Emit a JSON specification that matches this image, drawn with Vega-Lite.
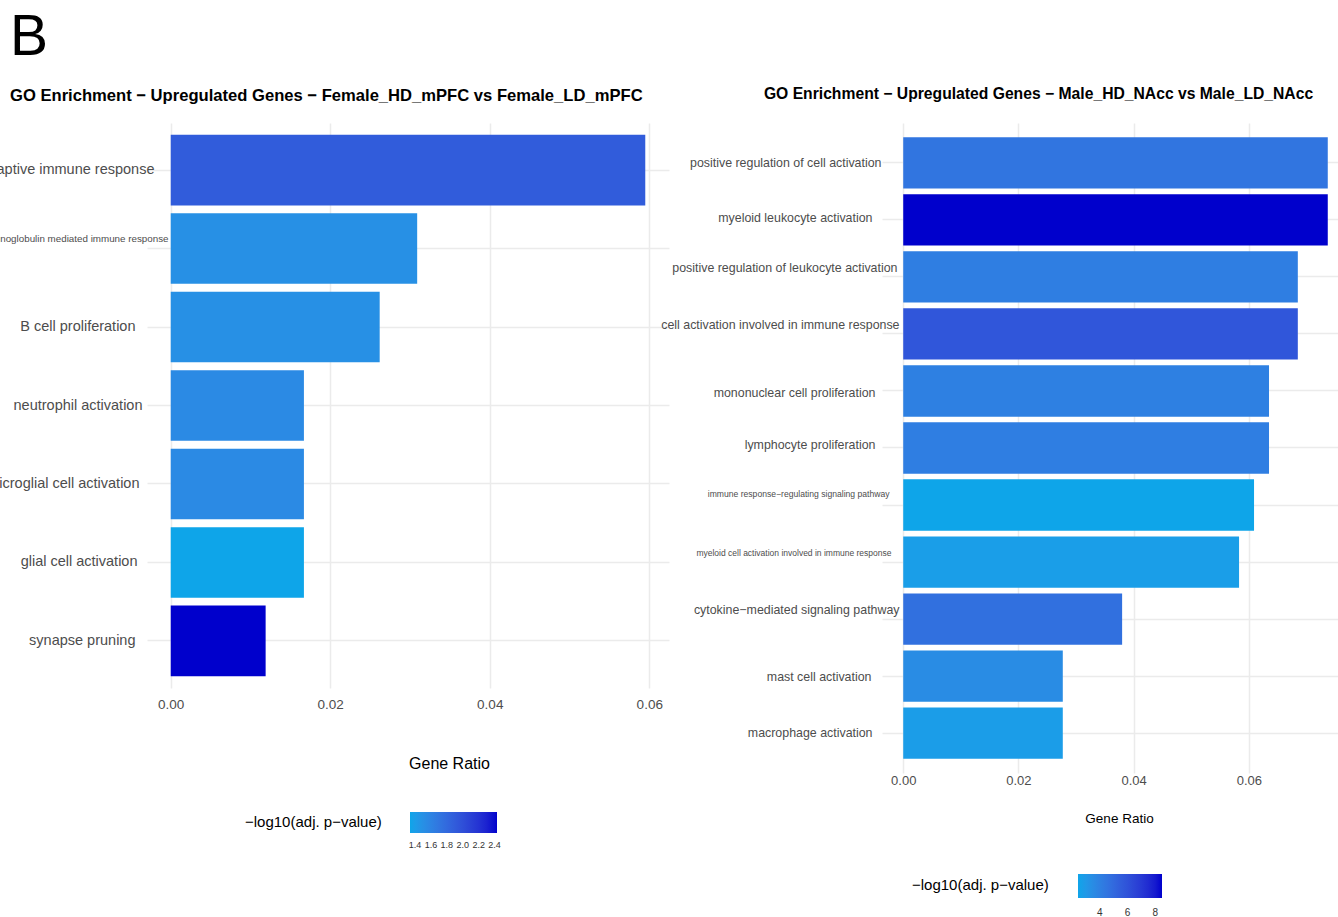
{
  "$schema": "https://vega.github.io/schema/vega-lite/v6.json",
  "autosize": {"type": "none"},
  "padding": {"left": 147, "top": 123, "right": 1191, "bottom": 794},
  "background": "white",
  "datasets": {
    "female": [
      {"term": "adaptive immune response", "ratio": 0.0595, "logp": 1.9},
      {"term": "immunoglobulin mediated immune response", "ratio": 0.0309, "logp": 1.5},
      {"term": "B cell proliferation", "ratio": 0.0262, "logp": 1.5},
      {"term": "neutrophil activation", "ratio": 0.0167, "logp": 1.55},
      {"term": "microglial cell activation", "ratio": 0.0167, "logp": 1.55},
      {"term": "glial cell activation", "ratio": 0.0167, "logp": 1.337},
      {"term": "synapse pruning", "ratio": 0.0119, "logp": 2.43}
    ],
    "male": [
      {"term": "positive regulation of cell activation", "ratio": 0.0737, "logp": 4.5},
      {"term": "myeloid leukocyte activation", "ratio": 0.0737, "logp": 8.49},
      {"term": "positive regulation of leukocyte activation", "ratio": 0.0685, "logp": 4.1},
      {"term": "cell activation involved in immune response", "ratio": 0.0685, "logp": 5.8},
      {"term": "mononuclear cell proliferation", "ratio": 0.0635, "logp": 4.0},
      {"term": "lymphocyte proliferation", "ratio": 0.0635, "logp": 4.1},
      {"term": "immune response−regulating signaling pathway", "ratio": 0.0609, "logp": 2.42},
      {"term": "myeloid cell activation involved in immune response", "ratio": 0.0583, "logp": 2.7},
      {"term": "cytokine−mediated signaling pathway", "ratio": 0.038, "logp": 4.7},
      {"term": "mast cell activation", "ratio": 0.0277, "logp": 3.5},
      {"term": "macrophage activation", "ratio": 0.0277, "logp": 2.75}
    ]
  },
  "bounds": "flush",
  "spacing": 213,
  "resolve": {"scale": {"color": "independent", "x": "independent", "y": "independent"}, "legend": {"color": "independent"}},
  "hconcat": [
    {
      "width": 522,
      "height": 565,
      "data": {"name": "female"},
      "title": {
        "text": "B", "subtitle": "GO Enrichment − Upregulated Genes − Female_HD_mPFC vs Female_LD_mPFC",
        "font": "Liberation Sans", "fontSize": 57, "fontWeight": "normal", "color": "black",
        "subtitleFont": "Liberation Sans", "subtitleFontSize": 16.6, "subtitleFontWeight": "bold", "subtitleColor": "black", "subtitlePadding": 21,
        "anchor": "start", "frame": "group", "dx": -137, "offset": 17
      },
      "mark": {"type": "bar"},
      "encoding": {
        "y": {
          "field": "term", "type": "nominal",
          "sort": ["adaptive immune response", "immunoglobulin mediated immune response", "B cell proliferation", "neutrophil activation", "microglial cell activation", "glial cell activation", "synapse pruning"],
          "scale": {"paddingInner": 0.1, "paddingOuter": 0.15},
          "axis": {
            "title": null, "domain": false, "ticks": false, "grid": true, "bandPosition": 0.5,
            "gridColor": "#ebebeb", "gridWidth": 1.5, "labelLimit": 0,
            "labelFont": "Liberation Sans", "labelColor": "#4d4d4d",
            "labelFontSize": {"expr": "datum.value == 'immunoglobulin mediated immune response' ? 9.8 : 14.5"},
            "labelPadding": {"expr": "datum.value == 'adaptive immune response' ? -7 : datum.value == 'immunoglobulin mediated immune response' ? -21 : datum.value == 'B cell proliferation' ? 12 : datum.value == 'neutrophil activation' ? 5 : datum.value == 'microglial cell activation' ? 8 : datum.value == 'glial cell activation' ? 10 : 12"},
            "labelOffset": {"expr": "datum.value == 'immunoglobulin mediated immune response' ? -10 : 0"}
          }
        },
        "x": {
          "field": "ratio", "type": "quantitative",
          "scale": {"domain": [-0.002975, 0.062475], "nice": false, "zero": false},
          "axis": {
            "values": [0, 0.02, 0.04, 0.06], "format": ".2f", "grid": true, "gridColor": "#ebebeb", "gridWidth": 1.5,
            "domain": false, "ticks": false, "labelFlush": false, "labelPadding": 9,
            "labelFont": "Liberation Sans", "labelFontSize": 13.5, "labelColor": "#4d4d4d",
            "title": "Gene Ratio", "titleFont": "Liberation Sans", "titleFontSize": 16, "titleFontWeight": "normal", "titleColor": "black",
            "titleX": 302, "titleY": 75, "titleBaseline": "middle"
          }
        },
        "x2": {"datum": 0},
        "color": {
          "field": "logp", "type": "quantitative",
          "scale": {"range": ["#0EA5E9", "#0000CC"], "interpolate": "lab", "zero": false, "nice": false},
          "legend": {
            "orient": "none", "legendX": 98, "legendY": 689, "direction": "horizontal",
            "title": "−log10(adj. p−value)", "titleOrient": "left", "titleAnchor": "start", "titleBaseline": "line-top", "titleLineHeight": 21,
            "titleFont": "Liberation Sans", "titleFontSize": 15, "titleFontWeight": "normal", "titleColor": "black", "titlePadding": 28,
            "gradientLength": 87, "gradientThickness": 21, "gradientStrokeWidth": 0,
            "values": [1.4, 1.6, 1.8, 2.0, 2.2, 2.4], "format": ".1f", "labelOverlap": false, "labelOffset": 8,
            "labelFont": "Liberation Sans", "labelFontSize": 9, "labelColor": "#333333"
          }
        }
      }
    },
    {
      "width": 467,
      "height": 650,
      "data": {"name": "male"},
      "title": {"text": "GO Enrichment − Upregulated Genes − Male_HD_NAcc vs Male_LD_NAcc", "font": "Liberation Sans", "fontSize": 15.7, "fontWeight": "bold", "color": "black", "anchor": "middle", "dx": -77, "offset": 20},
      "mark": {"type": "bar"},
      "encoding": {
        "y": {
          "field": "term", "type": "nominal",
          "sort": ["positive regulation of cell activation", "myeloid leukocyte activation", "positive regulation of leukocyte activation", "cell activation involved in immune response", "mononuclear cell proliferation", "lymphocyte proliferation", "immune response−regulating signaling pathway", "myeloid cell activation involved in immune response", "cytokine−mediated signaling pathway", "mast cell activation", "macrophage activation"],
          "scale": {"paddingInner": 0.1, "paddingOuter": 0.25},
          "axis": {
            "title": null, "domain": false, "ticks": false, "grid": true, "bandPosition": 0.5,
            "gridColor": "#ebebeb", "gridWidth": 1.5, "labelLimit": 0,
            "labelFont": "Liberation Sans", "labelColor": "#4d4d4d",
            "labelFontSize": {"expr": "datum.value == 'immune response−regulating signaling pathway' ? 8.6 : datum.value == 'myeloid cell activation involved in immune response' ? 8.5 : 12.4"},
            "labelPadding": {"expr": "datum.value == 'positive regulation of cell activation' ? 1 : datum.value == 'myeloid leukocyte activation' ? 10 : datum.value == 'positive regulation of leukocyte activation' ? -15 : datum.value == 'cell activation involved in immune response' ? -17 : datum.value == 'mononuclear cell proliferation' ? 7 : datum.value == 'lymphocyte proliferation' ? 7 : datum.value == 'immune response−regulating signaling pathway' ? -7 : datum.value == 'myeloid cell activation involved in immune response' ? -9 : datum.value == 'cytokine−mediated signaling pathway' ? -17 : datum.value == 'mast cell activation' ? 11 : 10"},
            "labelOffset": {"expr": "datum.value == 'myeloid leukocyte activation' ? -2 : datum.value == 'positive regulation of leukocyte activation' ? -9 : datum.value == 'cell activation involved in immune response' ? -9 : datum.value == 'mononuclear cell proliferation' ? 2 : datum.value == 'lymphocyte proliferation' ? -3 : datum.value == 'immune response−regulating signaling pathway' ? -11 : datum.value == 'myeloid cell activation involved in immune response' ? -9 : datum.value == 'cytokine−mediated signaling pathway' ? -9 : datum.value == 'mast cell activation' ? 1 : 0"}
          }
        },
        "x": {
          "field": "ratio", "type": "quantitative",
          "scale": {"domain": [-0.003685, 0.077385], "nice": false, "zero": false},
          "axis": {
            "values": [0, 0.02, 0.04, 0.06], "format": ".2f", "grid": true, "gridColor": "#ebebeb", "gridWidth": 1.5,
            "domain": false, "ticks": false, "labelFlush": false, "labelPadding": 1,
            "labelFont": "Liberation Sans", "labelFontSize": 13, "labelColor": "#4d4d4d",
            "title": "Gene Ratio", "titleFont": "Liberation Sans", "titleFontSize": 13.5, "titleFontWeight": "normal", "titleColor": "black",
            "titleX": 237, "titleY": 45, "titleBaseline": "middle"
          }
        },
        "x2": {"datum": 0},
        "color": {
          "field": "logp", "type": "quantitative",
          "scale": {"range": ["#0EA5E9", "#0000CC"], "interpolate": "lab", "zero": false, "nice": false},
          "legend": {
            "orient": "none", "legendX": 30, "legendY": 751, "direction": "horizontal",
            "title": "−log10(adj. p−value)", "titleOrient": "left", "titleAnchor": "start", "titleBaseline": "line-top", "titleLineHeight": 24,
            "titleFont": "Liberation Sans", "titleFontSize": 15, "titleFontWeight": "normal", "titleColor": "black", "titlePadding": 29,
            "gradientLength": 84, "gradientThickness": 24, "gradientStrokeWidth": 0,
            "values": [4, 6, 8], "format": "d", "labelOverlap": false, "labelOffset": 10,
            "labelFont": "Liberation Sans", "labelFontSize": 10, "labelColor": "#333333"
          }
        }
      }
    }
  ],
  "config": {"view": {"stroke": null}}
}
